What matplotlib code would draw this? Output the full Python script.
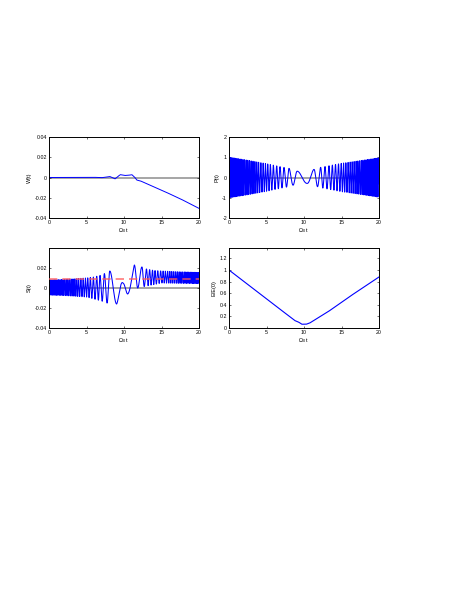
import numpy as np
import matplotlib.pyplot as plt

plt.rcParams['font.family'] = ['Liberation Sans', 'DejaVu Sans']
plt.rcParams['mathtext.fontset'] = 'custom'
plt.rcParams['mathtext.rm'] = 'Liberation Sans'
plt.rcParams['mathtext.it'] = 'Liberation Sans'

# values
x_ticks = [0, 5, 10, 15, 20]
x_ticklabels = ['0', '5', '10', '15', '20']

# W(t) knots
w_t = [0, 5, 6, 7, 7.6, 8.1, 8.5, 8.8, 9.1, 9.5, 10.1, 10.6, 11.05, 11.4, 11.7,
       12.2, 13, 15.3, 17.5, 20]
w_val = [0, 0, 0.0002, -0.0002, 0.0003, 0.001, -0.0002, -0.0014, 0.0005, 0.0028,
         0.002, 0.0022, 0.0028, 0.0005, -0.0025, -0.0034, -0.006, -0.0135, -0.021,
         -0.0305]

# P(t): cycle count of the oscillation (crests at integers) and envelope
p_phase_t = [0, 1, 2, 3, 4, 5.16, 5.51, 5.91, 6.36, 6.8, 7.33, 8.0, 9.1, 10.4, 11.33,
             11.8, 12.22, 12.8, 13.33, 13.78, 14.2, 14.6, 15, 16, 17, 18, 19, 20]
p_phase = [-30.25, -24.4, -19.3, -14.8, -10.8, -7, -6, -5, -4, -3, -2, -1, 0, 0.5, 1,
           1.5, 2, 3, 4, 5, 6, 7, 8.1, 11.4, 15.2, 19.6, 24.7, 30.3]
p_env_t = [0, 2.5, 5, 7, 8, 9.1, 10.4, 11.33, 12.22, 15, 17.5, 20]
p_env = [1.0, 0.85, 0.68, 0.52, 0.45, 0.31, 0.29, 0.4, 0.5, 0.7, 0.83, 0.97]

# S(t): cycle count, mid level and amplitude
s_phase_t = [0, 1, 2, 3, 4, 5.16, 5.51, 5.91, 6.36, 6.8, 7.38, 8.1, 9.02, 9.91, 10.5,
             11.38, 11.83, 12.4, 13.0, 13.42, 13.8, 14.13, 14.5, 15, 16, 17, 18, 19, 20]
s_phase = [-30.25, -24.4, -19.3, -14.8, -10.8, -7, -6, -5, -4, -3, -2, -1, -0.5, 0, 0.5,
           1, 1.5, 2, 3, 4, 5, 6, 7, 8.3, 11.6, 15.4, 19.8, 24.9, 30.5]
s_t = [0, 2, 4, 5, 6, 7, 8.1, 9.02, 9.91, 10.5, 11.38, 11.83, 12.4, 13.0, 14, 15, 17, 20]
s_mid = [0.0005, 0.0005, 0.0005, 0.0005, 0.0, 0.0, 0.0005, 0.0, -0.001, -0.001, 0.0115,
         0.0115, 0.011, 0.0105, 0.0105, 0.011, 0.0105, 0.01]
s_amp = [0.0075, 0.008, 0.009, 0.0095, 0.011, 0.013, 0.0165, 0.016, 0.0055, 0.005,
         0.0115, 0.0115, 0.01, 0.0085, 0.007, 0.006, 0.0058, 0.0055]
s_level = 0.0086

# E/E(0) knots
e_t = [0, 5, 8.75, 9.0, 9.3, 9.7, 10.3, 10.75, 13.2, 16, 20]
e_val = [1.0, 0.505, 0.13, 0.115, 0.1, 0.065, 0.065, 0.085, 0.28, 0.535, 0.88]

t = np.linspace(0, 20, 20001)
W = np.interp(t, w_t, w_val)
P = np.interp(t, p_env_t, p_env) * np.cos(2 * np.pi * np.interp(t, p_phase_t, p_phase))
S = np.interp(t, s_t, s_mid) + np.interp(t, s_t, s_amp) * np.cos(
    2 * np.pi * np.interp(t, s_phase_t, s_phase))
E = np.interp(t, e_t, e_val)

fig = plt.figure(figsize=(4.58, 5.92), dpi=100)
W_px, H_px = 458, 592


def make_ax(x0, y0, w, h):
    return fig.add_axes([x0 / W_px, 1 - (y0 + h) / H_px, w / W_px, h / H_px])


ax1 = make_ax(49, 137, 150, 81)
ax2 = make_ax(229, 137, 150, 81)
ax3 = make_ax(49, 248, 150, 80)
ax4 = make_ax(229, 248, 150, 80)

blue = (0, 0, 1)
gray = (0.62, 0.62, 0.62)

ax1.axhline(0, color=gray, lw=1.3, zorder=1)
ax1.plot(t, W, color=blue, lw=0.7, zorder=2)
ax1.set_ylim(-0.04, 0.04)
ax1.set_yticks([-0.04, -0.02, 0, 0.02, 0.04])
ax1.set_yticklabels(['-0.04', '-0.02', '0', '0.02', '0.04'])
ax1.set_ylabel('W(t)')

ax2.axhline(0, color=gray, lw=1.3, zorder=1)
ax2.plot(t, P, color=blue, lw=0.75, zorder=2)
ax2.set_ylim(-2, 2)
ax2.set_yticks([-2, -1, 0, 1, 2])
ax2.set_yticklabels(['-2', '-1', '0', '1', '2'])
ax2.set_ylabel('P(t)')

ax3.axhline(0, color=gray, lw=1.3, zorder=1)
ax3.plot(t, S, color=blue, lw=0.75, zorder=2)
ax3.axhline(s_level, color=(1, 0.35, 0.35), lw=1.2, ls=(0, (5, 3)), alpha=0.8, zorder=3)
ax3.set_ylim(-0.04, 0.04)
ax3.set_yticks([-0.04, -0.02, 0, 0.02])
ax3.set_yticklabels(['-0.04', '-0.02', '0', '0.02'])
ax3.set_ylabel('S(t)')

ax4.plot(t, E, color=blue, lw=0.8, zorder=2)
ax4.set_ylim(0, 1.38)
ax4.set_yticks([0, 0.2, 0.4, 0.6, 0.8, 1.0, 1.2])
ax4.set_yticklabels(['0', '0.2', '0.4', '0.6', '0.8', '1', '1.2'])
ax4.set_ylabel('E/E(0)')

for ax in (ax1, ax2, ax3, ax4):
    ax.set_xlim(0, 20)
    ax.set_xticks(x_ticks)
    ax.set_xticklabels(x_ticklabels)
    ax.set_xlabel(r'$\Omega_0$ t', fontsize=4, labelpad=1)
    ax.yaxis.label.set_size(4)
    ax.yaxis.labelpad = 2
    ax.tick_params(direction='in', length=1.5, width=0.4, labelsize=3.8, pad=1.5,
                   top=True, right=True)
    for sp in ax.spines.values():
        sp.set_linewidth(0.7)

fig.savefig('out.png', dpi=100)
